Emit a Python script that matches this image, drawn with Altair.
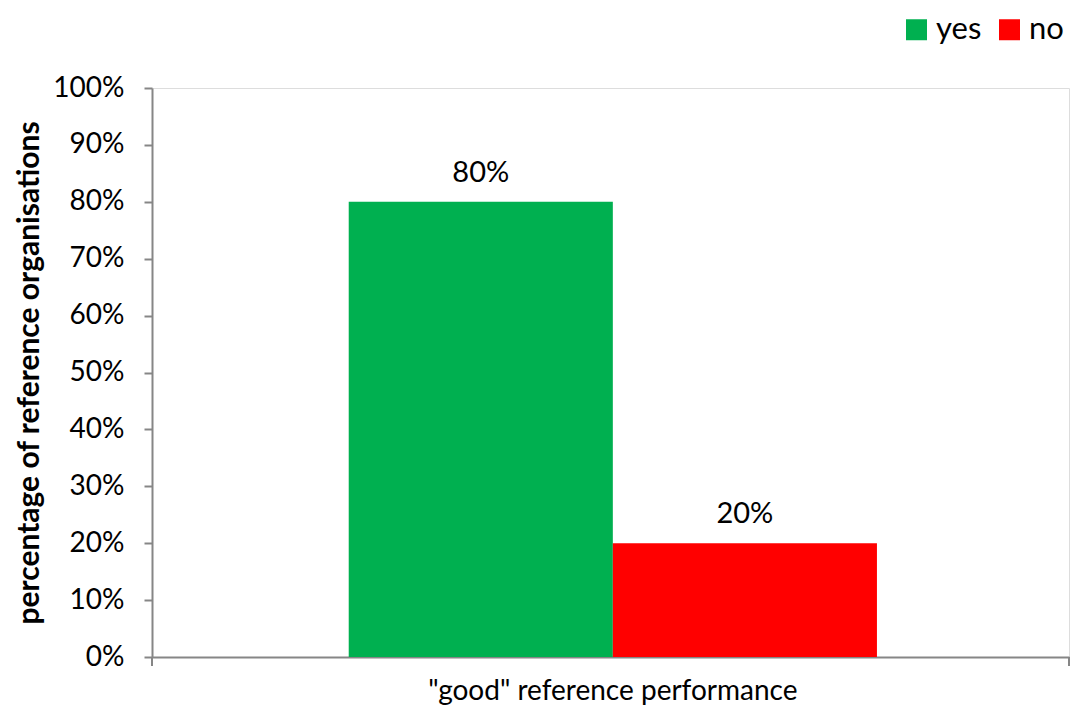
import altair as alt
import pandas as pd

category = ['"good" reference performance']
series = ["yes", "no"]
values = [80, 20]
colors = ["#00B050", "#FF0000"]
y_ticks = [0, 10, 20, 30, 40, 50, 60, 70, 80, 90, 100]

df = pd.DataFrame({
    "category": category * len(series),
    "series": series,
    "value": values,
})
df["label"] = df["value"].astype(str) + "%"

W, H = 917, 569
FONT = "Lato"
GREY = "#868686"

x_enc = alt.X("category:N", title=None,
              scale=alt.Scale(paddingOuter=0.368, paddingInner=0, align=0.506),
              axis=alt.Axis(ticks=False, labelAngle=0, labelFontSize=28,
                            labelPadding=20, labelColor="#000000", labelLimit=0,
                            domainColor=GREY, domainWidth=2, labelFont=FONT))
xo_enc = alt.XOffset("series:N", sort=series,
                     scale=alt.Scale(paddingInner=0, paddingOuter=0))
y_enc = alt.Y("value:Q",
              scale=alt.Scale(domain=[0, 100], nice=False),
              title="percentage of reference organisations",
              axis=alt.Axis(values=y_ticks, labelExpr="datum.value + '%'",
                            grid=False, tickSize=8, tickColor=GREY, tickWidth=2,
                            domainColor=GREY, domainWidth=2,
                            labelFontSize=28, labelFont=FONT, labelColor="#000000",
                            labelPadding=20,
                            titleFont=FONT, titleFontSize=30, titleFontWeight="bold",
                            titleColor="#000000", titlePadding=8))

bars = alt.Chart(df).mark_bar().encode(
    x=x_enc,
    xOffset=xo_enc,
    y=y_enc,
    color=alt.Color("series:N", sort=series,
                    scale=alt.Scale(domain=series, range=colors),
                    legend=alt.Legend(title=None, orient="none", direction="horizontal",
                                      legendX=749, legendY=-74,
                                      symbolType="square", symbolSize=441,
                                      symbolStrokeWidth=0, symbolOpacity=1,
                                      labelFontSize=31, labelFont=FONT,
                                      labelColor="#000000", labelOffset=4,
                                      columnPadding=12)),
)

labels = alt.Chart(df).mark_text(baseline="bottom", dy=-14, fontSize=29,
                                 font=FONT, color="#000000").encode(
    x=x_enc,
    xOffset=xo_enc,
    y=y_enc,
    text="label:N",
)

end_tick_left = alt.Chart(df).mark_rule(color=GREY, strokeWidth=2).encode(
    x=alt.value(0), y=alt.value(H), y2=alt.value(H + 9))
end_tick_right = alt.Chart(df).mark_rule(color=GREY, strokeWidth=2).encode(
    x=alt.value(W), y=alt.value(H), y2=alt.value(H + 9))

chart = alt.layer(bars, labels, end_tick_left, end_tick_right).properties(
    width=W, height=H,
    autosize=alt.AutoSizeParams(type="none"),
    padding={"left": 144, "top": 80, "right": 3, "bottom": 50},
).configure_view(stroke=None).configure(background="#ffffff")

chart.save("out.html", embed_options={"renderer": "svg", "actions": False})
